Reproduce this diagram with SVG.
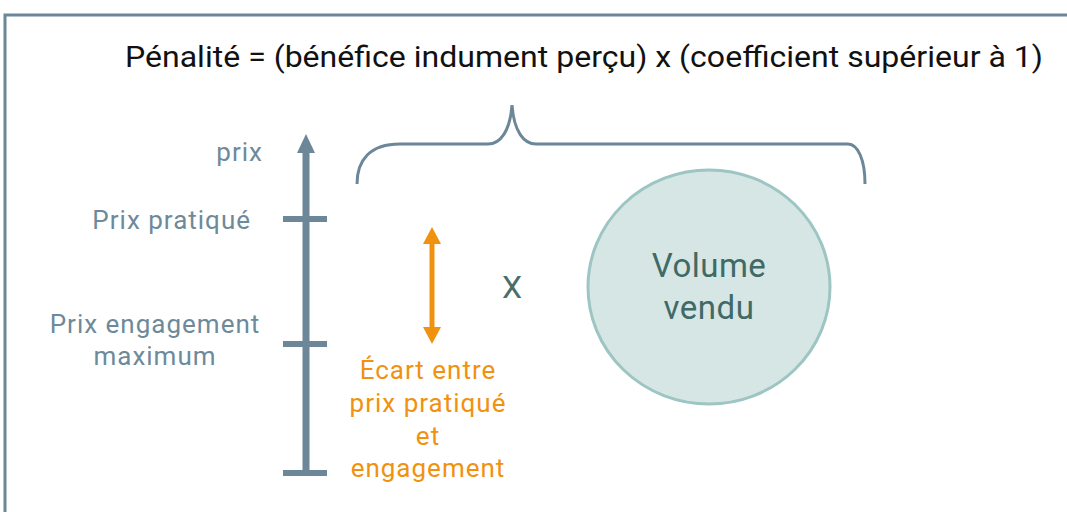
<svg xmlns="http://www.w3.org/2000/svg" width="1067" height="512" viewBox="0 0 1067 512">
<style>
.t{font-family:Roboto,"Liberation Sans",sans-serif}
.grey{fill:#6e8a9a;font-size:26px;letter-spacing:1px}
.or{fill:#f0920f;font-size:26px;letter-spacing:1px}
.axis{stroke:#6b8798;fill:none}
</style>
<rect width="1067" height="512" fill="#fff"/>
<path d="M5 515 V15 H1070" fill="none" stroke="#6b8798" stroke-width="3"/>
<g id="title"><text class="t" x="584" y="67" text-anchor="middle" font-size="29" fill="#111" textLength="918" lengthAdjust="spacingAndGlyphs">Pénalité = (bénéfice indument perçu) x (coefficient supérieur à 1)</text></g>
<g id="axis">
<line class="axis" x1="306" y1="476" x2="306" y2="150" stroke-width="7"/>
<polygon points="306,134 297,153 315,153" fill="#6b8798"/>
<line class="axis" x1="283" y1="219" x2="327" y2="219" stroke-width="6"/>
<line class="axis" x1="283" y1="344" x2="327" y2="344" stroke-width="6"/>
<line class="axis" x1="283" y1="473" x2="327" y2="473" stroke-width="6"/>
<text class="t grey" x="263" y="161" text-anchor="end">prix</text>
<text class="t grey" x="251" y="229" text-anchor="end">Prix pratiqué</text>
<text class="t grey" x="155" y="333" text-anchor="middle">Prix engagement</text>
<text class="t grey" x="155" y="365" text-anchor="middle">maximum</text>
</g>
<g id="brace">
<path class="axis" stroke-width="3" d="M357 184 C357 160 370 144 400 144 H488 C500 144 510 132 512 105 C514 132 524 144 536 144 H848 C858 144 865 160 865 184"/>
</g>
<g id="ecart">
<line x1="432" y1="240" x2="432" y2="331" stroke="#f0920f" stroke-width="5"/>
<polygon points="432,227 423,244 441,244" fill="#f0920f"/>
<polygon points="432,344 423,327 441,327" fill="#f0920f"/>
<text class="t or" x="428" y="379" text-anchor="middle">Écart entre</text>
<text class="t or" x="428" y="412" text-anchor="middle">prix pratiqué</text>
<text class="t or" x="428" y="445" text-anchor="middle">et</text>
<text class="t or" x="428" y="477" text-anchor="middle">engagement</text>
</g>
<g id="times"><text class="t" x="512" y="298" text-anchor="middle" font-size="32" fill="#4a6e6a">X</text></g>
<g id="volume">
<ellipse cx="709" cy="287" rx="121" ry="117" fill="#d6e6e5" stroke="#9cc5c3" stroke-width="3"/>
<text class="t" x="709" y="277" text-anchor="middle" font-size="33" letter-spacing="0.5" fill="#3f6a66">Volume</text>
<text class="t" x="709" y="319" text-anchor="middle" font-size="33" letter-spacing="0.5" fill="#3f6a66">vendu</text>
</g>
</svg>
